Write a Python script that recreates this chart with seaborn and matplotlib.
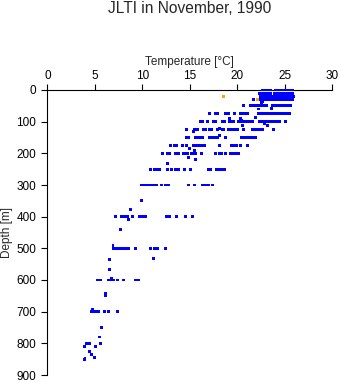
import matplotlib
matplotlib.use("Agg")
import matplotlib.pyplot as plt
import seaborn as sns
import pandas as pd

# ---- data: temperature (degC) readings at each standard depth (m) ----
depths = [0, 10, 20, 30, 50, 75, 100, 125, 150, 175, 200, 250, 300, 400, 500, 600, 700, 800]

t_000 = [22.6, 22.8, 23.0, 23.2, 23.35, 23.5, 24.0, 24.2, 24.4, 24.6, 24.8, 25.0, 25.2, 25.4, 25.6, 25.75, 25.85]
t_010 = [22.35, 22.55, 22.75, 22.95, 23.15, 23.3, 23.45, 23.95, 24.15, 24.35, 24.55, 24.75, 24.95, 25.15, 25.35,
         25.55, 25.7, 25.85]
t_020 = [22.4, 22.6, 22.8, 23.0, 23.2, 23.4, 23.6, 23.8, 24.0, 24.2, 24.4, 24.6, 24.8, 25.0, 25.2, 25.4, 25.6,
         25.8, 25.9]
t_030 = [21.68, 22.45, 22.65, 22.85, 23.05, 23.25, 23.45, 23.65, 23.85, 24.05, 24.25, 24.45, 24.65, 24.85, 25.05,
         25.25, 25.45, 25.65, 25.85]
t_050 = [20.65, 21.35, 21.55, 21.75, 21.95, 22.15, 22.35, 22.55, 22.75, 22.95, 23.1, 23.65, 23.85, 24.05, 24.25,
         24.45, 24.65, 24.85, 25.05, 25.25, 25.45, 25.6]
t_075 = [17.1, 17.7, 17.9, 18.7, 18.9, 19.1, 19.65, 20.3, 20.5, 20.7, 20.9, 21.1, 22.25, 22.45, 22.65, 22.85,
         23.05, 23.25, 23.45, 23.65, 23.85, 24.05, 24.25, 24.45, 24.65, 24.85, 25.05, 25.25, 25.45]
t_100 = [16.1, 16.35, 16.85, 17.45, 17.65, 18.4, 18.6, 19.2, 19.4, 19.6, 20.15, 20.35, 20.55, 20.75, 20.95, 21.15,
         21.35, 21.55, 22.3, 22.5, 22.7, 22.9, 23.1, 23.3, 23.5, 23.7, 23.9, 24.1, 24.3, 24.45, 25.05]
t_125 = [14.6, 15.45, 15.65, 15.85, 16.45, 16.6, 17.05, 17.3, 17.95, 18.4, 18.55, 19.1, 19.3, 19.5, 19.7, 19.9,
         20.05, 20.65, 21.6, 21.8, 22.0, 22.2, 22.4, 22.6, 23.8]
t_150 = [14.65, 14.85, 15.6, 15.8, 16.0, 16.2, 16.35, 17.05, 17.25, 17.45, 17.7, 17.95, 18.8, 20.45, 20.65, 20.85,
         21.05, 21.25, 21.45, 21.7, 21.95]
t_175 = [12.95, 13.4, 13.6, 14.2, 14.65, 15.4, 15.6, 15.8, 16.0, 16.2, 16.5, 18.15, 19.35, 19.55, 19.75, 19.95,
         20.3, 21.05]
t_200 = [12.15, 12.65, 12.85, 13.45, 13.75, 14.35, 14.55, 14.75, 15.15, 15.35, 15.55, 16.25, 17.65, 18.15, 18.3,
         18.75, 19.25, 19.45, 19.65, 19.8, 20.1]
t_250 = [10.85, 11.25, 11.45, 11.65, 11.85, 12.65, 13.05, 13.5, 13.8, 14.4, 15.1, 17.0, 17.2, 17.85, 18.05, 18.25,
         18.45, 18.65]
t_300 = [9.85, 10.05, 10.25, 10.45, 10.65, 10.85, 11.05, 11.25, 11.45, 12.05, 12.45, 12.7, 14.9, 15.5, 16.3, 16.5,
         16.7, 16.95, 17.35]
t_400 = [7.15, 7.75, 7.95, 8.15, 8.4, 8.95, 9.7, 9.9, 10.1, 10.3, 12.55, 12.85, 13.6, 14.5, 15.25]
t_500 = [7.0, 7.2, 7.4, 7.6, 7.8, 8.0, 8.2, 8.4, 8.55, 9.25, 10.9, 11.3, 11.55, 12.45]
t_600 = [5.25, 5.55, 6.4, 6.6, 6.8, 6.95, 7.35, 8.0, 9.25, 9.55]
t_700 = [4.65, 4.85, 5.1, 5.4, 6.05, 6.45, 7.35]
t_800 = [4.1, 4.4, 5.55]

# off-level readings (temperature, depth)
extra_temp = [22.6, 22.5, 22.2, 23.6, 19.2, 20.3, 21.9, 20.35, 20.4, 20.5, 22.9, 23.2, 18.1, 15.4, 18.1, 15.0,
              15.5, 14.9, 15.6, 12.6, 9.95, 8.7, 8.5, 7.7, 6.9, 11.2, 6.5, 6.5, 6.7, 6.1, 6.1, 4.75, 5.65, 5.5,
              3.85, 5.1, 4.4, 4.6, 5.0, 3.95, 3.85]
extra_depth = [37, 39, 60, 57, 89, 89, 88, 92, 97, 112, 106, 113, 121, 131, 143, 185, 192, 212, 221, 231, 348,
               377, 410, 440, 492, 532, 536, 567, 595, 644, 650, 694, 750, 780, 809, 809, 826, 835, 845, 847, 852]

# flagged readings (orange)
flag_temp = [18.5, 22.07]
flag_depth = [22, 30]

levels = [t_000, t_010, t_020, t_030, t_050, t_075, t_100, t_125, t_150, t_175, t_200, t_250, t_300, t_400,
          t_500, t_600, t_700, t_800]

rows = []
for d, temps in zip(depths, levels):
    for t in temps:
        rows.append((t, d, "ok"))
for t, d in zip(extra_temp, extra_depth):
    rows.append((t, d, "ok"))
for t, d in zip(flag_temp, flag_depth):
    rows.append((t, d, "flag"))
df = pd.DataFrame(rows, columns=["Temperature", "Depth", "kind"])

sns.set_style("white")
plt.rcParams["font.family"] = ["Liberation Sans", "DejaVu Sans"]

fig = plt.figure(figsize=(3.41, 3.84), dpi=100)
ax = fig.add_axes([47.5 / 341, 1 - 375 / 384, (332.3 - 47.5) / 341, (375 - 90) / 384])

sns.scatterplot(data=df, x="Temperature", y="Depth", hue="kind", hue_order=["ok", "flag"],
                palette={"ok": "#0000ff", "flag": "#ffa500"}, marker="s", s=4.6, linewidth=0,
                legend=False, ax=ax, clip_on=False, zorder=3, antialiased=False)

ax.set_xlim(0, 30)
ax.set_ylim(900, 0)
ax.set_xticks([0, 5, 10, 15, 20, 25, 30])
ax.set_yticks([0, 100, 200, 300, 400, 500, 600, 700, 800, 900])
ax.xaxis.tick_top()
ax.xaxis.set_label_position("top")
for s in ["right", "bottom"]:
    ax.spines[s].set_visible(False)
for s in ["top", "left"]:
    ax.spines[s].set_color("black")
    ax.spines[s].set_linewidth(0.8)
ax.tick_params(axis="x", which="major", top=True, bottom=False, direction="out", length=4, width=0.8,
               pad=2, labelsize=8.5, colors="black")
ax.tick_params(axis="y", which="major", left=True, direction="out", length=4, width=0.8,
               pad=4.2, labelsize=8.5, colors="black")
ax.set_xlabel("Temperature [°C]", fontsize=8.5, labelpad=3.5)
ax.set_ylabel("Depth [m]", fontsize=8.5, labelpad=2.5)
ax.grid(False)

fig.text(189.5 / 341, 0.998, "JLTI in November, 1990", ha="center", va="top", fontsize=11.2)

fig.savefig("out.png", dpi=100)
